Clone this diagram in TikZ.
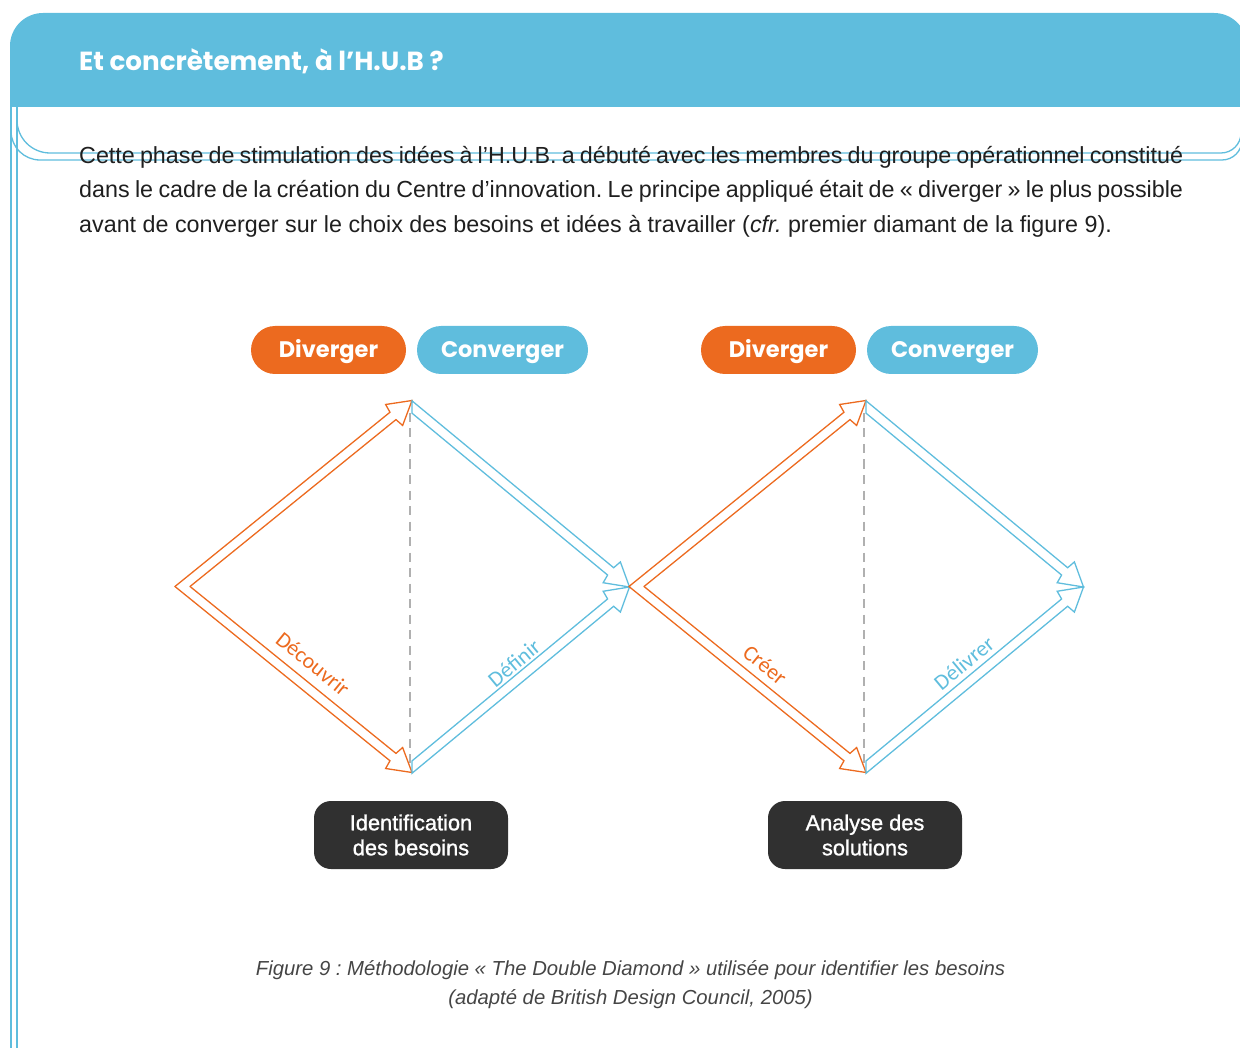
\documentclass[tikz,border=0pt]{standalone}
\usepackage{fontspec}
\setmainfont{Liberation Sans}
\newfontfamily\popfont{Poppins}
\newfontfamily\labfont{Carlito}
\newfontfamily\boxfont[FakeBold=1.2]{Liberation Sans}
\usetikzlibrary{calc}
\frenchspacing

\definecolor{hubblue}{HTML}{5FBDDD}
\definecolor{huborange}{HTML}{EC6A1F}
\definecolor{hubdark}{HTML}{303030}
\definecolor{hubgray}{HTML}{B0B0B0}
\definecolor{hubtext}{HTML}{1F1F1F}
\definecolor{hubcap}{HTML}{454545}

% hollow arrow geometry
\newcommand\hubShaft{4.75pt}
\newcommand\hubNeck{24.5pt}
\newcommand\hubBack{23pt}
\newcommand\hubHead{13.5pt}

% #1 tail centre, #2 tip, #3 direction of the tail cut, #4 style, #5 path end
\newcommand\hubarrow[5]{%
  \coordinate (haN) at ($(#2)!\hubNeck!(#1)$);
  \coordinate (haB) at ($(#2)!\hubBack!(#1)$);
  \coordinate (haAp) at ($(#1)!\hubShaft!90:(#2)$);
  \coordinate (haAm) at ($(#1)!\hubShaft!-90:(#2)$);
  \coordinate (haNp) at ($(haN)!\hubShaft!90:(#2)$);
  \coordinate (haNm) at ($(haN)!\hubShaft!-90:(#2)$);
  \coordinate (haBp) at ($(haB)!\hubHead!90:(#2)$);
  \coordinate (haBm) at ($(haB)!\hubHead!-90:(#2)$);
  \coordinate (haC) at ($(#1)+(#3)$);
  \coordinate (haTp) at (intersection of haAp--haNp and #1--haC);
  \coordinate (haTm) at (intersection of haAm--haNm and #1--haC);
  \draw[#4] (haTp) -- (haNp) -- (haBp) -- (#2) -- (haBm) -- (haNm) -- (haTm) #5;
}

\tikzset{
  frameline/.style={draw=hubblue, line width=1.3pt},
  body/.style={inner sep=0pt, text=hubtext, font=\fontsize{23.3}{28}\selectfont},
  capt/.style={inner sep=0pt, text=hubcap, font=\itshape\fontsize{20.3}{24}\selectfont},
  pill/.style={inner sep=0pt, rounded corners=24pt, minimum height=48pt, text=white,
    text height=15.8pt, text depth=0pt, font=\popfont\bfseries\fontsize{22.5}{26}\selectfont},
  darkbox/.style={inner sep=0pt, fill=hubdark, rounded corners=17pt, minimum width=194pt,
    minimum height=68pt, text=white, align=center,
    font=\boxfont\fontsize{21.8}{25}\selectfont},
  lab/.style={inner sep=0pt, font=\labfont\fontsize{22}{26}\selectfont},
  oarr/.style={draw=huborange, line width=1.3pt, line join=miter, line cap=round},
  barr/.style={draw=hubblue, line width=1.3pt, line join=miter, line cap=round},
  guide/.style={draw=hubgray, line width=1.6pt, dash pattern=on 9pt off 6.5pt},
}

\begin{document}
\begin{tikzpicture}[x=1pt, y=-1pt]
\useasboundingbox (0,0) rectangle (1240,1048);
\clip (0,0) rectangle (1240,1048);

% header band
\begin{scope}
  \clip (0,0) rectangle (1240,107);
  \fill[hubblue, rounded corners=33pt] (10,13) rectangle (1247,200);
\end{scope}
\node[anchor=base west, inner sep=0pt, text=white,
      font=\popfont\bfseries\fontsize{26.2}{30}\selectfont] (title) at (79,71)
      {Et concrètement, à l’H.U.B ?};

% box outlines
\draw[frameline] (11,107) -- (11,1048);
\draw[frameline] (17,107) -- (17,1048);
\draw[frameline] (17,107) -- (17,120) .. controls (17,138.2) and (31.8,153) .. (50,153)
  -- (1221,153) .. controls (1232,153) and (1241,144) .. (1241,133) -- (1241,100);
\draw[frameline] (11,107) -- (11,131) .. controls (11,147) and (24,160) .. (40,160)
  -- (1222,160) .. controls (1233,160) and (1242,151) .. (1242,140) -- (1242,100);

% paragraph
\node[body, anchor=base west] (p1) at (79,163.5) {\makebox[1104pt][s]{Cette phase de stimulation des idées à l’H.U.B. a débuté avec les membres du groupe opérationnel constitué}};
\node[body, anchor=base west] (p2) at (79,198) {\makebox[1104pt][s]{dans le cadre de la création du Centre d’innovation. Le principe appliqué était de « diverger » le plus possible}};
\node[body, anchor=base west] (p3) at (79,232.5) {avant de converger sur le choix des besoins et idées à travailler (\textit{cfr.} premier diamant de la figure 9).};

% phase pills
\node[pill, fill=huborange, minimum width=155pt] (dv1) at (328.5,350) {Diverger};
\node[pill, fill=hubblue, minimum width=171pt] (cv1) at (502.5,350) {Converger};
\node[pill, fill=huborange, minimum width=155pt] (dv2) at (778.5,350) {Diverger};
\node[pill, fill=hubblue, minimum width=171pt] (cv2) at (952.5,350) {Converger};

% diamonds
\foreach \dx/\k in {0/1,454/2}{
  \coordinate (oL\k) at (182.5+\dx,586.5);
  \coordinate (oT\k) at (412+\dx,400.5);
  \coordinate (oB\k) at (412+\dx,772.5);
  \coordinate (bT\k) at (412+\dx,407);
  \coordinate (bB\k) at (412+\dx,767);
  \coordinate (bR\k) at (629.5+\dx,587);
  \coordinate (gT\k) at (410+\dx,413);
  \coordinate (gB\k) at (410+\dx,768);
}
\draw[guide] (gT1) -- (gB1);
\draw[guide] (gT2) -- (gB2);

\hubarrow{oL1}{oT1}{1,0}{oarr}{}
\hubarrow{oL1}{oB1}{1,0}{oarr}{}
\hubarrow{bT1}{bR1}{0,1}{barr}{-- cycle}
\hubarrow{bB1}{bR1}{0,1}{barr}{-- cycle}
\hubarrow{oL2}{oT2}{1,0}{oarr}{}
\hubarrow{oL2}{oB2}{1,0}{oarr}{}
\hubarrow{bT2}{bR2}{0,1}{barr}{-- cycle}
\hubarrow{bB2}{bR2}{0,1}{barr}{-- cycle}

\node[lab, text=huborange, rotate=-39] (lDec) at (313,664) {Découvrir};
\node[lab, text=hubblue, rotate=39.7] (lDef) at (514,663) {Définir};
\node[lab, text=huborange, rotate=-39] (lCre) at (765,665) {Créer};
\node[lab, text=hubblue, rotate=39.7] (lDel) at (964,663) {Délivrer};

% phase outcomes
\node[darkbox] (bx1) at (411,835) {Identification\\des besoins};
\node[darkbox] (bx2) at (865,835) {Analyse des\\solutions};

% caption
\node[capt, anchor=base] (cap1) at (630.5,975) {Figure 9 : Méthodologie « The Double Diamond » utilisée pour identifier les besoins};
\node[capt, anchor=base] (cap2) at (630.5,1004) {(adapté de British Design Council, 2005)};
\end{tikzpicture}
\end{document}
